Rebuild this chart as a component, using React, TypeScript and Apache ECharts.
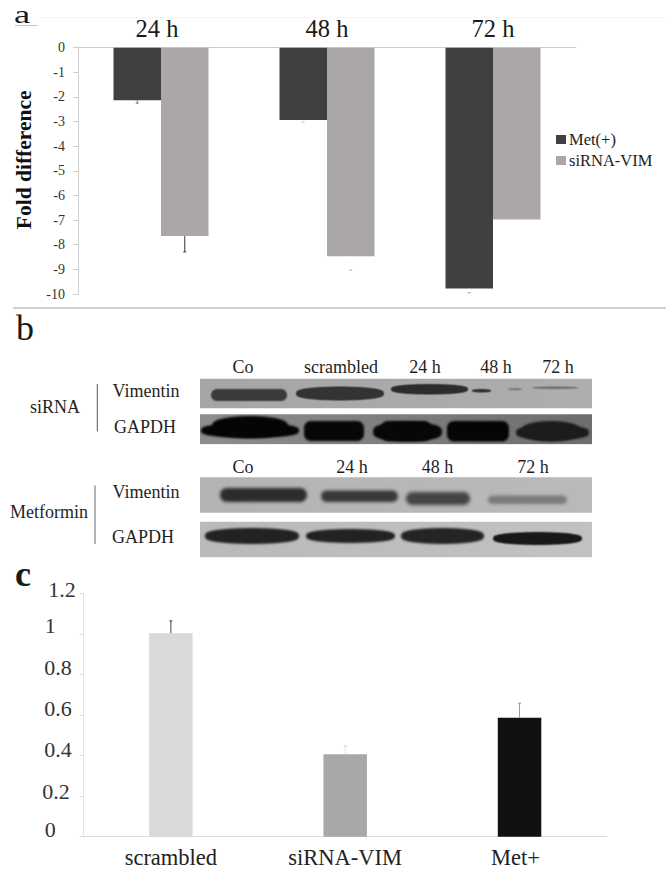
import React, { useEffect, useRef } from "react";
import * as echarts from "echarts";

const timePoints = ["24 h", "48 h", "72 h"];
const metValues = [-2.13, -2.94, -9.78];
const sirnaValues = [-7.65, -8.47, -6.98];
const metErrors = [-2.25, -3.02, -9.95];
const sirnaErrors = [-8.29, -9.03, -6.98];
const foldTicks = { min: -10, max: 0, interval: 1 };

const knockdownCategories = ["scrambled", "siRNA-VIM", "Met+"];
const knockdownValues = [1.003, 0.406, 0.587];
const knockdownErrors = [1.064, 0.447, 0.658];

const SERIF = "'Liberation Serif', 'Times New Roman', serif";
const DARK = "#404040";
const MID = "#aba7a7";

// Western-blot artwork of panel b, painted once to a canvas (page coordinates)
const BLOT_X = 198;
const BLOT_Y = 376;
const BLOT_W = 397;
const BLOT_H = 184;
const blots = [
  { y: 378.7, h: 29.6, c1: "#a6a6a6", c2: "#aeaeae" },
  { y: 414.3, h: 29.8, c1: "#8e8e8e", c2: "#6e6e6e" },
  { y: 477.3, h: 35.4, c1: "#b4b4b4", c2: "#bababa" },
  { y: 521.7, h: 35.6, c1: "#bababa", c2: "#c2c2c2" },
];
// s: "e" pointed ellipse, "r" flat rounded band
const bands = [
  // siRNA vimentin
  { s: "r", x1: 211, x2: 287, y1: 389, y2: 401, c: "#3a3a3a", b: 1.5 },
  { s: "e", x1: 296, x2: 384, y1: 386.5, y2: 400.5, c: "#333333", b: 1 },
  { s: "e", x1: 391, x2: 468, y1: 384, y2: 394.5, c: "#2c2c2c", b: 1 },
  { s: "e", x1: 472, x2: 491, y1: 389, y2: 392.5, c: "#333333", b: 0.8 },
  { s: "e", x1: 508, x2: 522, y1: 388, y2: 390.5, c: "#808080", b: 1 },
  { s: "e", x1: 532, x2: 578, y1: 386.5, y2: 389, c: "#707070", b: 0.8 },
  // siRNA GAPDH
  { s: "e", x1: 201, x2: 299, y1: 423, y2: 438, c: "#050505", b: 2.2 },
  { s: "e", x1: 212, x2: 288, y1: 416, y2: 438, c: "#050505", b: 2.2 },
  { s: "r", x1: 304, x2: 364, y1: 421, y2: 441, c: "#070707", b: 2.2 },
  { s: "e", x1: 373, x2: 442, y1: 422, y2: 441.5, c: "#070707", b: 2.2 },
  { s: "r", x1: 381, x2: 431, y1: 421, y2: 441, c: "#070707", b: 2.2 },
  { s: "r", x1: 447, x2: 509, y1: 421, y2: 441.5, c: "#050505", b: 2.2 },
  { s: "e", x1: 516, x2: 589, y1: 425, y2: 440, c: "#1a1a1a", b: 2.2 },
  { s: "e", x1: 522, x2: 580, y1: 421, y2: 441.5, c: "#1c1c1c", b: 2.2 },
  // metformin vimentin
  { s: "r", x1: 220, x2: 307, y1: 488, y2: 502, c: "#2c2c2c", b: 3 },
  { s: "r", x1: 321, x2: 398, y1: 490.5, y2: 502, c: "#383838", b: 3 },
  { s: "r", x1: 406, x2: 470, y1: 492, y2: 505, c: "#444444", b: 3.5 },
  { s: "r", x1: 488, x2: 567, y1: 495.5, y2: 504, c: "#7a7a7a", b: 3 },
  // metformin GAPDH
  { s: "e", x1: 205, x2: 299, y1: 528, y2: 544, c: "#222222", b: 2 },
  { s: "e", x1: 306, x2: 395, y1: 529, y2: 543, c: "#222222", b: 2 },
  { s: "e", x1: 401, x2: 484, y1: 528, y2: 544, c: "#242424", b: 2 },
  { s: "e", x1: 493, x2: 582, y1: 532, y2: 545, c: "#181818", b: 1.5 },
];
const blotTexts = [
  { t: "Co", x: 243, y: 366.7 },
  { t: "scrambled", x: 341, y: 366.7 },
  { t: "24 h", x: 425, y: 366.7 },
  { t: "48 h", x: 496, y: 366.7 },
  { t: "72 h", x: 558, y: 366.7 },
  { t: "Co", x: 243, y: 467 },
  { t: "24 h", x: 352, y: 467 },
  { t: "48 h", x: 437.5, y: 467 },
  { t: "72 h", x: 533, y: 467 },
  { t: "Vimentin", x: 146, y: 391 },
  { t: "GAPDH", x: 145, y: 427 },
  { t: "Vimentin", x: 146, y: 491.5 },
  { t: "GAPDH", x: 143, y: 536.5 },
  { t: "siRNA", x: 55, y: 406.5 },
  { t: "Metformin", x: 49, y: 511.5 },
];

function paintBlots(): string {
  const scale = 2;
  const cv = document.createElement("canvas");
  cv.width = BLOT_W * scale;
  cv.height = BLOT_H * scale;
  const ctx = cv.getContext("2d")!;
  ctx.scale(scale, scale);
  ctx.translate(-BLOT_X, -BLOT_Y);
  const clip = (b: (typeof blots)[number]) => {
    ctx.beginPath();
    ctx.rect(200, b.y, 392, b.h);
  };
  for (const b of blots) {
    const g = ctx.createLinearGradient(200, 0, 592, 0);
    g.addColorStop(0, b.c1);
    g.addColorStop(1, b.c2);
    ctx.fillStyle = g;
    clip(b);
    ctx.fill();
  }
  for (const d of bands) {
    const host = blots.find((b) => d.y1 >= b.y - 2 && d.y2 <= b.y + b.h + 2)!;
    ctx.save();
    clip(host);
    ctx.clip();
    ctx.filter = `blur(${d.b}px)`;
    ctx.fillStyle = d.c;
    ctx.beginPath();
    const w = d.x2 - d.x1;
    const h = d.y2 - d.y1;
    if (d.s === "e") {
      const cx = (d.x1 + d.x2) / 2;
      const cy = (d.y1 + d.y2) / 2;
      // super-elliptic outline, flatter than a plain ellipse and pointed at its ends
      for (let t = 0; t <= 64; t++) {
        const a = (t / 64) * Math.PI * 2;
        const px = cx + (w / 2) * Math.sign(Math.cos(a)) * Math.pow(Math.abs(Math.cos(a)), 1.1);
        const py = cy + (h / 2) * Math.sign(Math.sin(a)) * Math.pow(Math.abs(Math.sin(a)), 0.65);
        t === 0 ? ctx.moveTo(px, py) : ctx.lineTo(px, py);
      }
      ctx.closePath();
    } else {
      ctx.roundRect(d.x1, d.y1, w, h, Math.min(h / 2, 7));
    }
    ctx.fill();
    ctx.restore();
  }
  return cv.toDataURL("image/png");
}

const errorSeries = (
  axisIndex: number,
  bars: number[],
  errs: number[],
  offset: number,
  stemColors: string[],
  capColors: string[]
) => ({
  type: "custom",
  xAxisIndex: axisIndex,
  yAxisIndex: axisIndex,
  silent: true,
  z: 5,
  data: bars.map((v, i) => [i, v, errs[i]]),
  encode: { x: 0, y: 2 },
  renderItem: (_: any, api: any) => {
    const i = api.value(0);
    if (api.value(1) === api.value(2)) return { type: "group", children: [] };
    const a = api.coord([i, api.value(1)]);
    const b = api.coord([i, api.value(2)]);
    const x = a[0] + offset;
    return {
      type: "group",
      children: [
        { type: "line", shape: { x1: x, y1: a[1], x2: x, y2: b[1] }, style: { stroke: stemColors[i], lineWidth: 1 } },
        { type: "line", shape: { x1: x - 1.5, y1: b[1], x2: x + 1.5, y2: b[1] }, style: { stroke: capColors[i], lineWidth: 1 } },
      ],
    };
  },
});

export default function App() {
  const ref = useRef<HTMLDivElement>(null);
  useEffect(() => {
    document.body.style.margin = "0";
    const chart = echarts.init(ref.current!, null, { renderer: "svg" });
    const axisGrey = "#cfcfcf";
    const label = (t: string, x: number, y: number, bold = false, size = 36, scaleX = 1) => ({
      type: "text",
      x,
      y,
      scaleX,
      z: 20,
      style: {
        text: t,
        font: `${bold ? "bold " : ""}${size}px ${SERIF}`,
        fill: "#1a1a1a",
      },
    });
    const cLabel = { fontFamily: SERIF, fontSize: 22, color: "#333" };
    chart.setOption({
      animation: false,
      backgroundColor: "#ffffff",
      grid: [
        { left: 78, top: 47.7, width: 498, height: 246.3 },
        { left: 83.7, top: 593.3, width: 523, height: 243.4 },
      ],
      xAxis: [
        {
          gridIndex: 0,
          type: "category",
          position: "top",
          data: timePoints,
          axisLine: { onZero: false, lineStyle: { color: axisGrey, width: 1 } },
          axisTick: { show: false },
          axisLabel: {
            fontFamily: SERIF,
            fontSize: 24.5,
            color: "#1a1a1a",
            margin: 7,
            formatter: (v: string, i: number) => (i === 0 ? `{first|${v}}` : v),
            rich: { first: { fontFamily: SERIF, fontSize: 24.5, color: "#1a1a1a", padding: [0, 8, 0, 0] } },
          },
        },
        {
          gridIndex: 1,
          type: "category",
          data: knockdownCategories,
          axisLine: { lineStyle: { color: "#dcdcdc", width: 1 } },
          axisTick: { show: false },
          axisLabel: {
            fontFamily: SERIF,
            fontSize: 22.5,
            color: "#222",
            margin: 9,
            formatter: (v: string) => (v === "Met+" ? `{met|${v}}` : v),
            rich: { met: { fontFamily: SERIF, fontSize: 22.5, color: "#222", padding: [0, 8, 3, 0] } },
          },
        },
      ],
      yAxis: [
        {
          gridIndex: 0,
          type: "value",
          min: foldTicks.min,
          max: foldTicks.max,
          interval: foldTicks.interval,
          name: "Fold difference",
          nameLocation: "middle",
          nameGap: 35,
          nameRotate: 90,
          nameTextStyle: {
            fontFamily: SERIF,
            fontWeight: "bold",
            fontSize: 21.5,
            color: "#111",
            padding: [0, 0, 0, 22],
          },
          splitLine: { show: false },
          axisLine: { show: true, onZero: false, lineStyle: { color: axisGrey } },
          axisTick: { show: true, length: 5, lineStyle: { color: axisGrey } },
          axisLabel: { fontFamily: SERIF, fontSize: 14, color: "#333", margin: 13 },
        },
        {
          gridIndex: 1,
          type: "value",
          min: 0,
          max: 1.2,
          interval: 0.2,
          splitLine: { show: false },
          axisLine: { show: true, lineStyle: { color: "#e4e4e4" } },
          axisTick: { show: true, length: 4, lineStyle: { color: "#dcdcdc" } },
          axisLabel: {
            ...cLabel,
            margin: 8,
            formatter: (v: number) => {
              const s = String(Math.round(v * 10) / 10);
              const key =
                s === "1.2" ? "top" : s === "1" ? "one" : s === "0" ? "zero" : s === "0.2" ? "low" : "mid";
              return `{${key}|${s}}`;
            },
            rich: {
              top: { ...cLabel, padding: [0, 0, 7, 0] },
              one: { ...cLabel, padding: [0, 20, 16, 0] },
              mid: { ...cLabel, padding: [0, 4, 13, 0] },
              low: { ...cLabel, padding: [0, 6, 10, 0] },
              zero: { ...cLabel, padding: [0, 20, 14, 0] },
            },
          },
        },
      ],
      legend: {
        show: true,
        orient: "vertical",
        left: 551,
        top: 126,
        itemWidth: 10,
        itemHeight: 9,
        itemGap: 4,
        data: ["Met(+)", "siRNA-VIM"],
        selectedMode: false,
        icon: "rect",
        textStyle: { fontFamily: SERIF, fontSize: 16.5, color: "#222", padding: [0, 0, 0, -2] },
      },
      series: [
        {
          name: "Met(+)",
          type: "bar",
          xAxisIndex: 0,
          yAxisIndex: 0,
          data: metValues,
          barWidth: 47.5,
          barGap: 0,
          itemStyle: { color: DARK },
        },
        {
          name: "siRNA-VIM",
          type: "bar",
          xAxisIndex: 0,
          yAxisIndex: 0,
          data: sirnaValues,
          barWidth: 47.5,
          barGap: 0,
          itemStyle: { color: MID },
        },
        errorSeries(0, metValues, metErrors, -23.75, ["#777", "#e8e8e8", "#ffffff"], ["#777", "#ccc", "#999"]),
        errorSeries(0, sirnaValues, sirnaErrors, 23.75, ["#333", "#ffffff", "#ffffff"], ["#333", "#aaa", "#ffffff"]),
        {
          type: "bar",
          xAxisIndex: 1,
          yAxisIndex: 1,
          barWidth: 43.5,
          data: knockdownValues.map((value, i) => ({
            value,
            itemStyle: { color: ["#d9d9d9", "#aaa7a7", "#111111"][i] },
          })),
        },
        errorSeries(1, knockdownValues, knockdownErrors, 0, ["#444", "#e4e4e4", "#999"], ["#444", "#ccc", "#999"]),
      ],
      graphic: [
        { type: "line", z: 1, shape: { x1: 37, y1: 17.5, x2: 666, y2: 17.5 }, style: { stroke: "#f5f5f5", lineWidth: 1 } },
        { type: "line", z: 1, shape: { x1: 15, y1: 25.5, x2: 38, y2: 25.5 }, style: { stroke: "#c4c4c4", lineWidth: 1 } },
        { type: "line", z: 1, shape: { x1: 13, y1: 308, x2: 666, y2: 308 }, style: { stroke: "#d0d0d0", lineWidth: 2 } },
        label("a", 14, 1.5, false, 26, 1.4),
        label("b", 16, 310),
        label("c", 15, 556, true),
        {
          type: "image",
          z: 2,
          x: BLOT_X,
          y: BLOT_Y,
          style: { image: paintBlots(), width: BLOT_W, height: BLOT_H },
        },
        ...blotTexts.map((t) => ({
          type: "text",
          z: 10,
          x: t.x,
          y: t.y,
          style: { text: t.t, font: `18px ${SERIF}`, fill: "#1f1f1f", textAlign: "center", textVerticalAlign: "middle" },
        })),
        { type: "line", z: 4, shape: { x1: 97.3, y1: 384, x2: 97.3, y2: 431.5 }, style: { stroke: "#555", lineWidth: 1 } },
        { type: "line", z: 4, shape: { x1: 95, y1: 485.5, x2: 95, y2: 544 }, style: { stroke: "#666", lineWidth: 1 } },
      ],
    });
    return () => chart.dispose();
  }, []);
  return <div ref={ref} style={{ position: "fixed", left: 0, top: 0, width: 666, height: 873 }} />;
}
